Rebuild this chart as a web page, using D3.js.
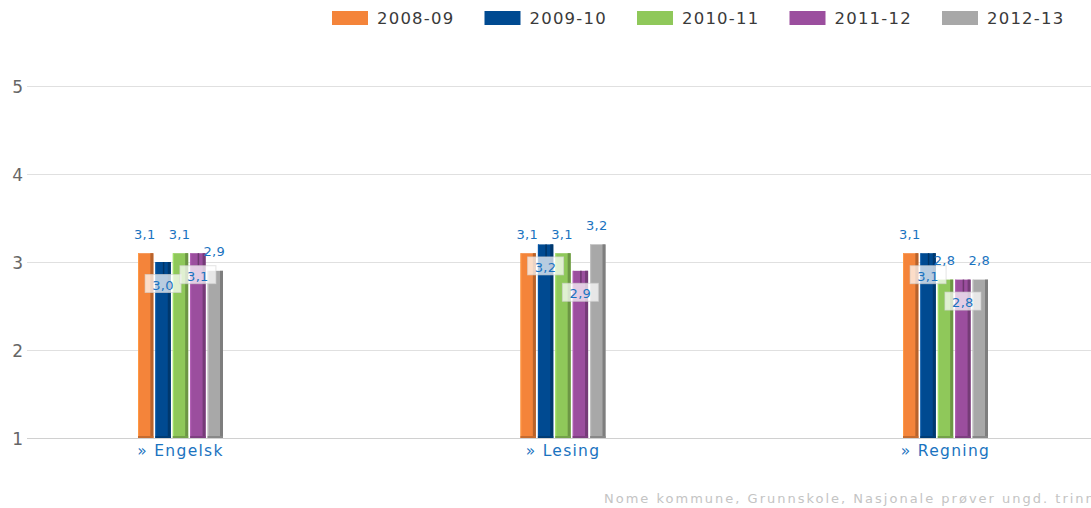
<!DOCTYPE html>
<html>
<head>
<meta charset="utf-8">
<script src="https://cdn.jsdelivr.net/npm/d3@7"></script>
<style>
  html, body { margin: 0; padding: 0; background: #fff; }
  svg { display: block; }
  text { font-family: "DejaVu Sans", Verdana, sans-serif; }
</style>
</head>
<body>
<svg id="chart" width="1091" height="508"></svg>
<script>
const categories = ["Engelsk", "Lesing", "Regning"];
const seriesNames = ["2008-09", "2009-10", "2010-11", "2011-12", "2012-13"];
const values2008 = [3.1, 3.1, 3.1];
const values2009 = [3.0, 3.2, 3.1];
const values2010 = [3.1, 3.1, 2.8];
const values2011 = [3.1, 2.9, 2.8];
const values2012 = [2.9, 3.2, 2.8];
const yTicks = [1, 2, 3, 4, 5];
const creditText = "Nome kommune, Grunnskole, Nasjonale prøver ungd. trinn";

const seriesValues = [values2008, values2009, values2010, values2011, values2012];
const colors = ["#f4843a", "#004a91", "#8fc85a", "#9b4e9e", "#a8a8a8"];

const W = 1091, H = 508;
const plotLeft = 27, plotRight = 1091;
const svg = d3.select("#chart");

const y = d3.scaleLinear().domain([1, 5]).range([438, 86]);
const x = d3.scalePoint().domain(categories).range([180, 945]);
const barW = 15, barStep = 17;
const inner = d3.scaleBand().domain(d3.range(seriesNames.length))
  .range([-42, -42 + barStep * seriesNames.length]).paddingInner(2 / 17).paddingOuter(0);

// grid
const grid = svg.append("g");
grid.selectAll("line").data(yTicks).join("line")
  .attr("x1", plotLeft).attr("x2", plotRight)
  .attr("y1", d => y(d) + 0.5).attr("y2", d => y(d) + 0.5)
  .attr("stroke", d => d === 1 ? "#d0d0d0" : "#e0e0e0").attr("stroke-width", 1);

// y axis labels
const yAxis = d3.axisLeft(y).tickValues(yTicks).tickSize(0).tickPadding(0).tickFormat(d3.format("d"));
const ya = svg.append("g").attr("transform", "translate(23,0)").call(yAxis);
ya.select(".domain").remove();
ya.selectAll("text").attr("font-size", 17).attr("fill", "#666")
  .attr("font-family", "DejaVu Sans, sans-serif").attr("dy", "0.36em");

// x axis labels
const xAxis = d3.axisBottom(x).tickSize(0).tickPadding(0).tickFormat(d => "» " + d);
const xa = svg.append("g").attr("transform", "translate(0,438)").call(xAxis);
xa.select(".domain").remove();
xa.selectAll("text").attr("font-size", 15.5).attr("fill", "#1a73c0")
  .attr("font-family", "DejaVu Sans, sans-serif").attr("letter-spacing", "1.3px")
  .attr("y", 18).attr("dy", 0);

// bars
const data = [];
categories.forEach((c, ci) => {
  seriesValues.forEach((arr, si) => {
    data.push({ cat: c, s: si, v: arr[ci] });
  });
});

const bx = d => x(d.cat) + inner(d.s);
const g = svg.append("g");
const bars = g.selectAll("g.bar").data(data).join("g").attr("class", "bar");
bars.append("rect")
  .attr("x", d => bx(d)).attr("y", d => y(d.v))
  .attr("width", inner.bandwidth()).attr("height", d => y(1) - y(d.v))
  .attr("fill", d => colors[d.s]);
bars.append("rect")
  .attr("x", d => bx(d) + inner.bandwidth() - 3).attr("y", d => y(d.v))
  .attr("width", 3).attr("height", d => y(1) - y(d.v))
  .attr("fill", d => d3.color(colors[d.s]).darker(0.8));
bars.append("rect")
  .attr("x", d => bx(d)).attr("y", d => y(d.v))
  .attr("width", 1).attr("height", d => y(1) - y(d.v))
  .attr("fill", d => d3.color(colors[d.s]).brighter(0.4));
bars.append("rect")
  .attr("x", d => bx(d)).attr("y", d => y(1) - 2)
  .attr("width", inner.bandwidth()).attr("height", 2)
  .attr("fill", d => d3.color(colors[d.s]).darker(0.6));

// data labels: alternate above / inside to avoid overlaps
const fmt = v => d3.format(".1f")(v).replace(".", ",");
const labels = svg.append("g");
data.forEach(d => {
  const cx = bx(d) + inner.bandwidth() / 2;
  const top = y(d.v);
  const inside = d.s % 2 === 1;
  if (inside) {
    labels.append("line")
      .attr("x1", cx + 0.5).attr("x2", cx + 0.5)
      .attr("y1", top).attr("y2", top + 12.5)
      .attr("stroke", d3.color(colors[d.s]).darker(1)).attr("stroke-width", 1.5);
    labels.append("rect")
      .attr("x", cx - 18).attr("y", top + 12.5).attr("width", 36).attr("height", 18)
      .attr("fill", "rgba(255,255,255,0.72)").attr("stroke", "rgba(210,210,210,0.6)");
    labels.append("text")
      .attr("x", cx).attr("y", top + 27.5).attr("text-anchor", "middle")
      .attr("font-size", 13).attr("letter-spacing", "0.3px").attr("fill", "#1a73c0")
      .text(fmt(d.v));
  } else {
    labels.append("text")
      .attr("x", cx - 1).attr("y", top - 14.5).attr("text-anchor", "middle")
      .attr("font-size", 13).attr("letter-spacing", "0.3px").attr("fill", "#1a73c0")
      .text(fmt(d.v));
  }
});

// legend
const legend = svg.append("g");
const lx = d3.scaleLinear().domain([0, seriesNames.length - 1]).range([332, 942]);
const li = legend.selectAll("g").data(seriesNames).join("g")
  .attr("transform", (d, i) => `translate(${lx(i)},11)`);
li.append("rect").attr("width", 36).attr("height", 14).attr("fill", (d, i) => colors[i]);
li.append("text").attr("x", 45).attr("y", 13)
  .attr("font-size", 16.5).attr("letter-spacing", "1.2px").attr("fill", "#3a3a3a")
  .text(d => d);

// credit
svg.append("text").attr("x", 604).attr("y", 503)
  .attr("font-size", 13).attr("letter-spacing", "2px").attr("fill", "#c4c4c4")
  .text(creditText);
</script>
</body>
</html>
